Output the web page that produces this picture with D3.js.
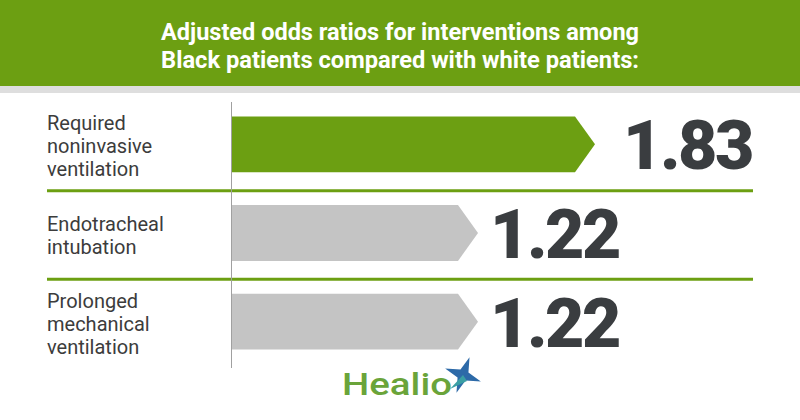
<!DOCTYPE html>
<html>
<head>
<meta charset="utf-8">
<script src="https://cdn.jsdelivr.net/npm/d3@7"></script>
<style>
  body { margin: 0; background: #fff; }
  svg { display: block; }
</style>
</head>
<body>
<script>
(function(){

//chart data
var titleLines = ["Adjusted odds ratios for interventions among", "Black patients compared with white patients:"];
var categories = ["Required noninvasive ventilation", "Endotracheal intubation", "Prolonged mechanical ventilation"];
var labelLines = [["Required", "noninvasive", "ventilation"], ["Endotracheal", "intubation"], ["Prolonged", "mechanical", "ventilation"]];
var oddsRatios = [1.83, 1.22, 1.22];
var highlight = [true, false, false];

window.onload = drawChart();

function drawChart(){

    var width = 800,
        height = 420;

    var svg = d3.select("body")
        .append("svg")
        .attr("width", width)
        .attr("height", height);

    //header band
    svg.append("rect")
        .attr("x", 0).attr("y", 0)
        .attr("width", width).attr("height", 86)
        .attr("fill", "#6c9f12");
    svg.append("rect")
        .attr("x", 0).attr("y", 86)
        .attr("width", width).attr("height", 7)
        .attr("fill", "#dedede");

    svg.selectAll(".title")
        .data(titleLines)
        .enter()
        .append("text")
        .attr("class", "title")
        .attr("x", width / 2)
        .attr("y", function(d, i){ return 40 + i * 28; })
        .attr("text-anchor", "middle")
        .attr("textLength", 478)
        .attr("lengthAdjust", "spacingAndGlyphs")
        .style("font-family", "Roboto, 'Noto Sans', sans-serif")
        .style("font-weight", "bold")
        .style("font-size", "23px")
        .style("fill", "#fff")
        .text(function(d){ return d; });

    //scales
    var axisX = 231;
    var x = d3.scaleLinear()
        .domain([0, 1.83])
        .range([244, 595]);

    var y = d3.scaleBand()
        .domain(categories)
        .range([100, 366])
        .paddingInner(0.37)
        .paddingOuter(0.185);

    var step = y.step(),
        bw = y.bandwidth(),
        tip = 20;

    //separators between rows
    svg.selectAll(".sep")
        .data(categories.slice(0, -1))
        .enter()
        .append("line")
        .attr("class", "sep")
        .attr("x1", 47).attr("x2", 753)
        .attr("y1", function(d){ return y(d) + bw / 2 + step / 2 + 2; })
        .attr("y2", function(d){ return y(d) + bw / 2 + step / 2 + 2; })
        .attr("stroke", "#6c9f12")
        .attr("stroke-width", 3);

    //bars as arrows
    svg.selectAll(".bar")
        .data(categories)
        .enter()
        .append("path")
        .attr("class", "bar")
        .attr("d", function(d, i){
            var x1 = x(oddsRatios[i]),
                y0 = y(d),
                y1 = y0 + bw;
            return "M" + axisX + "," + y0 +
                "L" + (x1 - tip) + "," + y0 +
                "L" + x1 + "," + (y0 + bw / 2) +
                "L" + (x1 - tip) + "," + y1 +
                "L" + axisX + "," + y1 + "Z";
        })
        .attr("fill", function(d, i){ return highlight[i] ? "#6c9f12" : "#c4c4c4"; });

    //axis line
    svg.append("line")
        .attr("x1", axisX + 0.5).attr("x2", axisX + 0.5)
        .attr("y1", 102).attr("y2", 368)
        .attr("stroke", "#a0a0a0")
        .attr("stroke-width", 1);

    //values
    svg.selectAll(".value")
        .data(categories)
        .enter()
        .append("text")
        .attr("class", "value")
        .attr("x", function(d, i){ return x(oddsRatios[i]) + (highlight[i] ? 28 : 12); })
        .attr("y", function(d){ return y(d) + bw / 2 + 25; })
        .style("font-family", "Roboto, sans-serif")
        .style("font-weight", "900")
        .style("font-size", "68px")
        .style("letter-spacing", "-2.5px")
        .style("fill", "#3a3d40")
        .text(function(d, i){ return oddsRatios[i].toFixed(2); });

    //category labels
    var labels = svg.selectAll(".label")
        .data(categories)
        .enter()
        .append("text")
        .attr("class", "label")
        .style("font-family", "Roboto, sans-serif")
        .style("font-size", "20px")
        .style("fill", "#3c3c3c");

    labels.each(function(d, i){
        var lines = labelLines[i],
            cy = y(d) + bw / 2 + 9;
        d3.select(this).selectAll("tspan")
            .data(lines)
            .enter()
            .append("tspan")
            .attr("x", 47)
            .attr("y", function(l, k){ return cy + (k - (lines.length - 1) / 2) * 23; })
            .text(function(l){ return l; });
    });

    //logo
    var logo = svg.append("g").attr("class", "logo");
    logo.append("text")
        .attr("x", 342)
        .attr("y", 395)
        .attr("textLength", 110)
        .attr("lengthAdjust", "spacingAndGlyphs")
        .style("font-family", "Roboto, sans-serif")
        .style("font-weight", "500")
        .style("font-size", "31px")
        .style("fill", "#6aa43a")
        .text("Healio");

    var starPts = [];
    for (var k = 0; k < 8; k++) {
        var ang = Math.PI / 4 * k - Math.PI / 2 + 0.35;
        var r = k % 2 === 0 ? 19 : 6;
        starPts.push([463 + r * Math.cos(ang), 375 + r * Math.sin(ang)]);
    }
    logo.append("path")
        .attr("d", d3.line()(starPts) + "Z")
        .attr("fill", "#2d6aa8");
    logo.append("path")
        .attr("d", "M463,375L450,389L467,381Z")
        .attr("fill", "#3a9fa4");
};

})();
</script>
</body>
</html>
